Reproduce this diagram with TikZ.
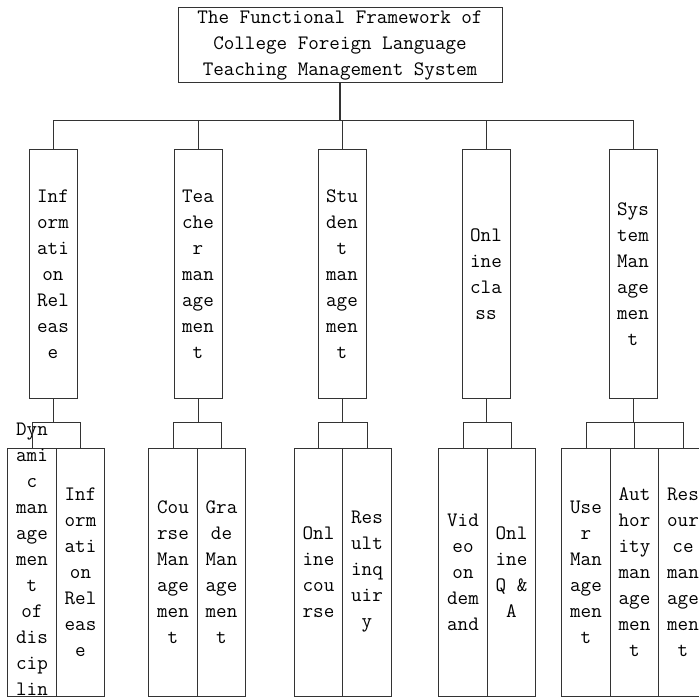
\documentclass[tikz,border=0pt]{standalone}
\usepackage{fontspec}
\usepackage{tikz}
\usetikzlibrary{positioning,calc}
\definecolor{frameline}{HTML}{333333}
\newcommand{\cellfont}{\ttfamily\fontsize{20.5}{26}\selectfont}
\tikzstyle{titlebox} = [rectangle, draw=frameline, line width=1pt, inner sep=0pt,
    minimum width=324pt, minimum height=75pt, align=center, font=\cellfont]
\tikzstyle{modbox} = [rectangle, draw=frameline, line width=1pt, inner sep=0pt,
    minimum width=48pt, minimum height=248pt, align=center, font=\cellfont]
\tikzstyle{subbox} = [modbox, minimum width=48.5pt]
\tikzstyle{celltext} = [align=center, font=\cellfont, inner sep=0pt]
\tikzstyle{link} = [draw=frameline, line width=1pt]

\begin{document}
\begin{tikzpicture}[x=1pt, y=-1pt]
\clip (0,0) rectangle (699,698);
% top box
\node[titlebox] (root) at (340,45.5) {The Functional Framework of\\College Foreign Language\\Teaching Management System};
% modules
\node[modbox] (info) at (53,274) {Inf\\orm\\ati\\on\\Rel\\eas\\e};
\node[modbox] (teach) at (198,274) {Tea\\che\\r\\man\\age\\men\\t};
\node[modbox] (stud) at (342,274) {Stu\\den\\t\\man\\age\\men\\t};
\node[modbox] (online) at (486,274) {Onl\\ine\\cla\\ss};
\node[modbox] (sys) at (633,274) {Sys\\tem\\Man\\age\\men\\t};
% functions
\node[subbox, label={[celltext]center:Dyn\\ami\\c\\man\\age\\men\\t\\of\\dis\\cip\\lin\\e}] (dyn) at (32,572) {};
\node[subbox] (rel) at (80.5,572) {Inf\\orm\\ati\\on\\Rel\\eas\\e};
\node[subbox] (course) at (173,572) {Cou\\rse\\Man\\age\\men\\t};
\node[subbox] (grade) at (221.5,572) {Gra\\de\\Man\\age\\men\\t};
\node[subbox] (ocourse) at (318.5,572) {Onl\\ine\\cou\\rse};
\node[subbox] (result) at (367,572) {Res\\ult\\inq\\uir\\y};
\node[subbox] (video) at (463,572) {Vid\\eo\\on\\dem\\and};
\node[subbox] (qa) at (511.5,572) {Onl\\ine\\Q \&\\A};
\node[subbox] (user) at (586,572) {Use\\r\\Man\\age\\men\\t};
\node[subbox] (auth) at (634.5,572) {Aut\\hor\\ity\\man\\age\\men\\t};
\node[subbox] (res) at (683,572) {Res\\our\\ce\\man\\age\\men\\t};
% connectors
\draw[link, line width=2pt] (root.south) -- ++(0,37) coordinate (bus);
\foreach \m in {info,teach,stud,online,sys}
  \draw[link] (bus) -| (\m.north);
\draw[link] (info.south) -- ++(0,24) coordinate (j1);
\foreach \f in {dyn,rel} \draw[link] (j1) -| (\f.north);
\draw[link] (teach.south) -- ++(0,24) coordinate (j2);
\foreach \f in {course,grade} \draw[link] (j2) -| (\f.north);
\draw[link] (stud.south) -- ++(0,24) coordinate (j3);
\foreach \f in {ocourse,result} \draw[link] (j3) -| (\f.north);
\draw[link] (online.south) -- ++(0,24) coordinate (j4);
\foreach \f in {video,qa} \draw[link] (j4) -| (\f.north);
\draw[link] (sys.south) -- ++(0,24) coordinate (j5);
\foreach \f in {user,auth,res} \draw[link] (j5) -| (\f.north);
\end{tikzpicture}
\end{document}
